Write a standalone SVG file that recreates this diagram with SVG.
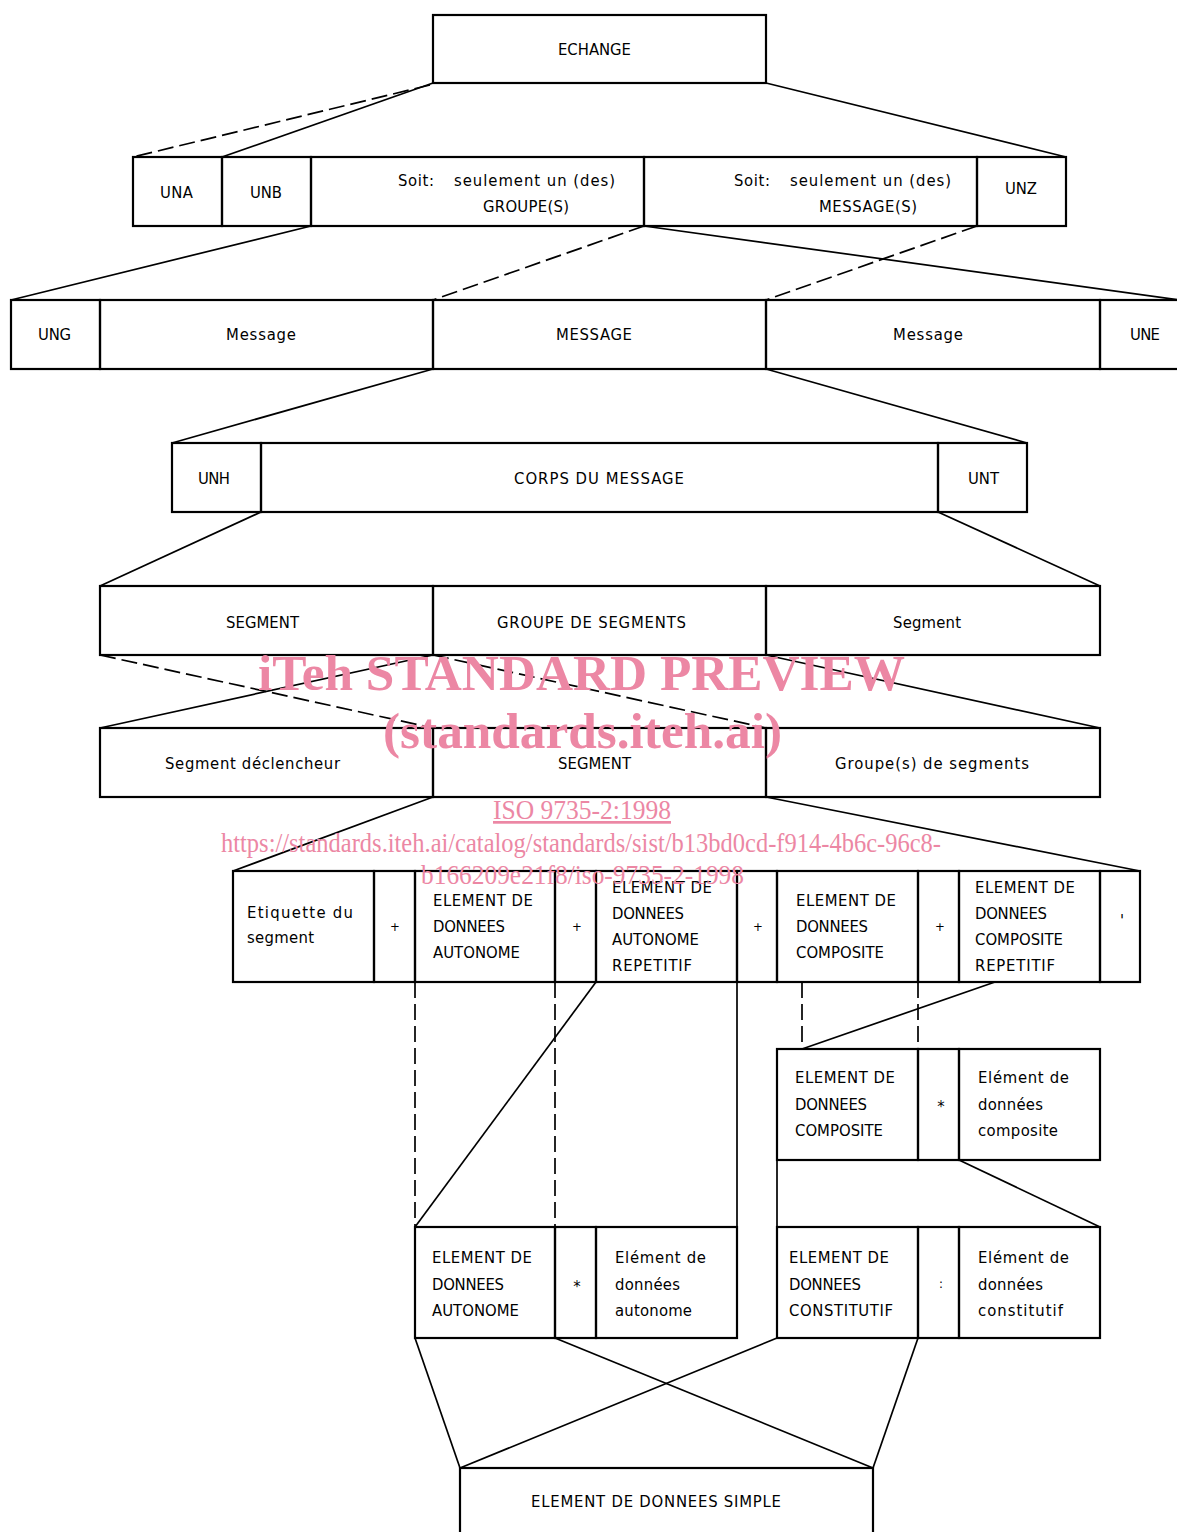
<svg xmlns="http://www.w3.org/2000/svg" width="1177" height="1532" viewBox="0 0 1177 1532">
<style>
rect{fill:none;stroke:#000;stroke-width:2.2}
.c line{stroke:#000;stroke-width:1.7;fill:none}
.c .d{stroke-dasharray:16 6}
text{font-family:"Liberation Sans Narrow","DejaVu Sans Condensed","Liberation Sans",sans-serif;font-size:16.5px;fill:#000}
.m{text-anchor:middle}
.p{font-size:13px}
.w text{font-family:"Liberation Serif","Times New Roman",serif;fill:#ec87a4;font-weight:bold;font-size:50px}
.w .s{font-weight:normal;font-size:27px}
</style>
<rect x="0" y="0" width="1177" height="1532" style="fill:#fff;stroke:none"/>
<g class="c" id="connectors">
<line x1="433" y1="83" x2="222" y2="157"/>
<line x1="766" y1="83" x2="1066" y2="157"/>
<line x1="311" y1="226" x2="11" y2="300"/>
<line x1="644" y1="226" x2="1180" y2="300"/>
<line x1="433" y1="369" x2="172" y2="443"/>
<line x1="766" y1="369" x2="1027" y2="443"/>
<line x1="261" y1="512" x2="100" y2="586"/>
<line x1="938" y1="512" x2="1100" y2="586"/>
<line x1="433" y1="655" x2="100" y2="728"/>
<line x1="766" y1="655" x2="1100" y2="728"/>
<line x1="433" y1="797" x2="233" y2="871"/>
<line x1="766" y1="797" x2="1140" y2="871"/>
<line x1="596" y1="982" x2="415" y2="1227"/>
<line x1="737" y1="982" x2="737" y2="1227"/>
<line x1="995" y1="982" x2="802" y2="1049"/>
<line x1="777" y1="1160" x2="777" y2="1227"/>
<line x1="959" y1="1160" x2="1100" y2="1227"/>
<line x1="415" y1="1338" x2="460" y2="1468"/>
<line x1="555" y1="1338" x2="873" y2="1468"/>
<line x1="777" y1="1338" x2="460" y2="1468"/>
<line x1="918" y1="1338" x2="873" y2="1468"/>
<line class="d" x1="430" y1="85" x2="133" y2="157"/>
<line class="d" x1="644" y1="226" x2="433" y2="300"/>
<line class="d" x1="977" y1="226" x2="766" y2="300"/>
<line class="d" x1="100" y1="655" x2="433" y2="728"/>
<line class="d" x1="433" y1="655" x2="766" y2="728"/>
<line class="d" x1="415" y1="982" x2="415" y2="1227"/>
<line class="d" x1="555" y1="982" x2="555" y2="1227"/>
<line class="d" x1="802" y1="982" x2="802" y2="1049"/>
<line class="d" x1="918" y1="982" x2="918" y2="1049"/>
</g>

<g id="echange"><rect x="433" y="15" width="333" height="68"/><text x="558" y="55" textLength="73">ECHANGE</text></g>

<g id="una"><rect x="133" y="157" width="89" height="69"/><text x="160" y="198" textLength="33">UNA</text></g>
<g id="unb"><rect x="222" y="157" width="89" height="69"/><text x="250" y="198" textLength="32">UNB</text></g>
<g id="soit-groupes"><rect x="311" y="157" width="333" height="69"/><text x="398" y="186" textLength="36">Soit:</text><text x="454" y="186" textLength="161">seulement un (des)</text><text x="483" y="212" textLength="86">GROUPE(S)</text></g>
<g id="soit-messages"><rect x="644" y="157" width="333" height="69"/><text x="734" y="186" textLength="36">Soit:</text><text x="790" y="186" textLength="161">seulement un (des)</text><text x="819" y="212" textLength="98">MESSAGE(S)</text></g>
<g id="unz"><rect x="977" y="157" width="89" height="69"/><text x="1005" y="194" textLength="32">UNZ</text></g>

<g id="ung"><rect x="11" y="300" width="89" height="69"/><text x="38" y="340" textLength="33">UNG</text></g>
<g id="message1"><rect x="100" y="300" width="333" height="69"/><text x="226" y="340" textLength="70">Message</text></g>
<g id="message"><rect x="433" y="300" width="333" height="69"/><text x="556" y="340" textLength="76">MESSAGE</text></g>
<g id="message2"><rect x="766" y="300" width="334" height="69"/><text x="893" y="340" textLength="70">Message</text></g>
<g id="une"><rect x="1100" y="300" width="89" height="69"/><text x="1130" y="340" textLength="30">UNE</text></g>

<g id="unh"><rect x="172" y="443" width="89" height="69"/><text x="198" y="484" textLength="32">UNH</text></g>
<g id="corps"><rect x="261" y="443" width="677" height="69"/><text x="514" y="484" textLength="170">CORPS DU MESSAGE</text></g>
<g id="unt"><rect x="938" y="443" width="89" height="69"/><text x="968" y="484" textLength="31">UNT</text></g>

<g id="segment1"><rect x="100" y="586" width="333" height="69"/><text x="226" y="628" textLength="73">SEGMENT</text></g>
<g id="groupe-segments"><rect x="433" y="586" width="333" height="69"/><text x="497" y="628" textLength="189">GROUPE DE SEGMENTS</text></g>
<g id="segment2"><rect x="766" y="586" width="334" height="69"/><text x="893" y="628" textLength="68">Segment</text></g>

<g id="declencheur"><rect x="100" y="728" width="333" height="69"/><text x="165" y="769" textLength="175">Segment déclencheur</text></g>
<g id="segment3"><rect x="433" y="728" width="333" height="69"/><text x="558" y="769" textLength="73">SEGMENT</text></g>
<g id="groupes"><rect x="766" y="728" width="334" height="69"/><text x="835" y="769" textLength="194">Groupe(s) de segments</text></g>

<g id="etiquette"><rect x="233" y="871" width="141" height="111"/><text x="247" y="918" textLength="106">Etiquette du</text><text x="247" y="943" textLength="67">segment</text></g>
<g id="plus1"><rect x="374" y="871" width="41" height="111"/><text class="m p" x="395" y="931">+</text></g>
<g id="autonome"><rect x="415" y="871" width="140" height="111"/><text x="433" y="906" textLength="100">ELEMENT DE</text><text x="433" y="932" textLength="72">DONNEES</text><text x="433" y="958" textLength="87">AUTONOME</text></g>
<g id="plus2"><rect x="555" y="871" width="41" height="111"/><text class="m p" x="577" y="931">+</text></g>
<g id="autonome-rep"><rect x="596" y="871" width="141" height="111"/><text x="612" y="893" textLength="100">ELEMENT DE</text><text x="612" y="919" textLength="72">DONNEES</text><text x="612" y="945" textLength="87">AUTONOME</text><text x="612" y="971" textLength="80">REPETITIF</text></g>
<g id="plus3"><rect x="737" y="871" width="40" height="111"/><text class="m p" x="758" y="931">+</text></g>
<g id="composite"><rect x="777" y="871" width="141" height="111"/><text x="796" y="906" textLength="100">ELEMENT DE</text><text x="796" y="932" textLength="72">DONNEES</text><text x="796" y="958" textLength="88">COMPOSITE</text></g>
<g id="plus4"><rect x="918" y="871" width="41" height="111"/><text class="m p" x="940" y="931">+</text></g>
<g id="composite-rep"><rect x="959" y="871" width="141" height="111"/><text x="975" y="893" textLength="100">ELEMENT DE</text><text x="975" y="919" textLength="72">DONNEES</text><text x="975" y="945" textLength="88">COMPOSITE</text><text x="975" y="971" textLength="80">REPETITIF</text></g>
<g id="apostrophe"><rect x="1100" y="871" width="40" height="111"/><text class="m" x="1122" y="926">'</text></g>

<g id="composite2"><rect x="777" y="1049" width="141" height="111"/><text x="795" y="1083" textLength="100">ELEMENT DE</text><text x="795" y="1110" textLength="72">DONNEES</text><text x="795" y="1136" textLength="88">COMPOSITE</text></g>
<g id="star1"><rect x="918" y="1049" width="41" height="111"/><text class="m" x="941" y="1112">*</text></g>
<g id="composite-txt"><rect x="959" y="1049" width="141" height="111"/><text x="978" y="1083" textLength="91">Elément de</text><text x="978" y="1110" textLength="65">données</text><text x="978" y="1136" textLength="80">composite</text></g>

<g id="autonome2"><rect x="415" y="1227" width="140" height="111"/><text x="432" y="1263" textLength="100">ELEMENT DE</text><text x="432" y="1290" textLength="72">DONNEES</text><text x="432" y="1316" textLength="87">AUTONOME</text></g>
<g id="star2"><rect x="555" y="1227" width="41" height="111"/><text class="m" x="577" y="1292">*</text></g>
<g id="autonome-txt"><rect x="596" y="1227" width="141" height="111"/><text x="615" y="1263" textLength="91">Elément de</text><text x="615" y="1290" textLength="65">données</text><text x="615" y="1316" textLength="77">autonome</text></g>

<g id="constitutif"><rect x="777" y="1227" width="141" height="111"/><text x="789" y="1263" textLength="100">ELEMENT DE</text><text x="789" y="1290" textLength="72">DONNEES</text><text x="789" y="1316" textLength="104">CONSTITUTIF</text></g>
<g id="colon"><rect x="918" y="1227" width="41" height="111"/><text class="m p" x="941" y="1288">:</text></g>
<g id="constitutif-txt"><rect x="959" y="1227" width="141" height="111"/><text x="978" y="1263" textLength="91">Elément de</text><text x="978" y="1290" textLength="65">données</text><text x="978" y="1316" textLength="85">constitutif</text></g>

<g id="simple"><rect x="460" y="1468" width="413" height="100"/><text x="531" y="1507" textLength="250">ELEMENT DE DONNEES SIMPLE</text></g>

<g class="w" id="watermark">
<text x="258" y="690" textLength="647" lengthAdjust="spacingAndGlyphs">iTeh STANDARD PREVIEW</text>
<text x="383" y="748" textLength="399" lengthAdjust="spacingAndGlyphs">(standards.iteh.ai)</text>
<text class="s" x="493" y="819" textLength="178" lengthAdjust="spacingAndGlyphs" text-decoration="underline">ISO 9735-2:1998</text>
<text class="s" x="221" y="852" textLength="720" lengthAdjust="spacingAndGlyphs">https://standards.iteh.ai/catalog/standards/sist/b13bd0cd-f914-4b6c-96c8-</text>
<text class="s" x="421" y="884" textLength="323" lengthAdjust="spacingAndGlyphs">b166209e21f8/iso-9735-2-1998</text>
</g>
</svg>
